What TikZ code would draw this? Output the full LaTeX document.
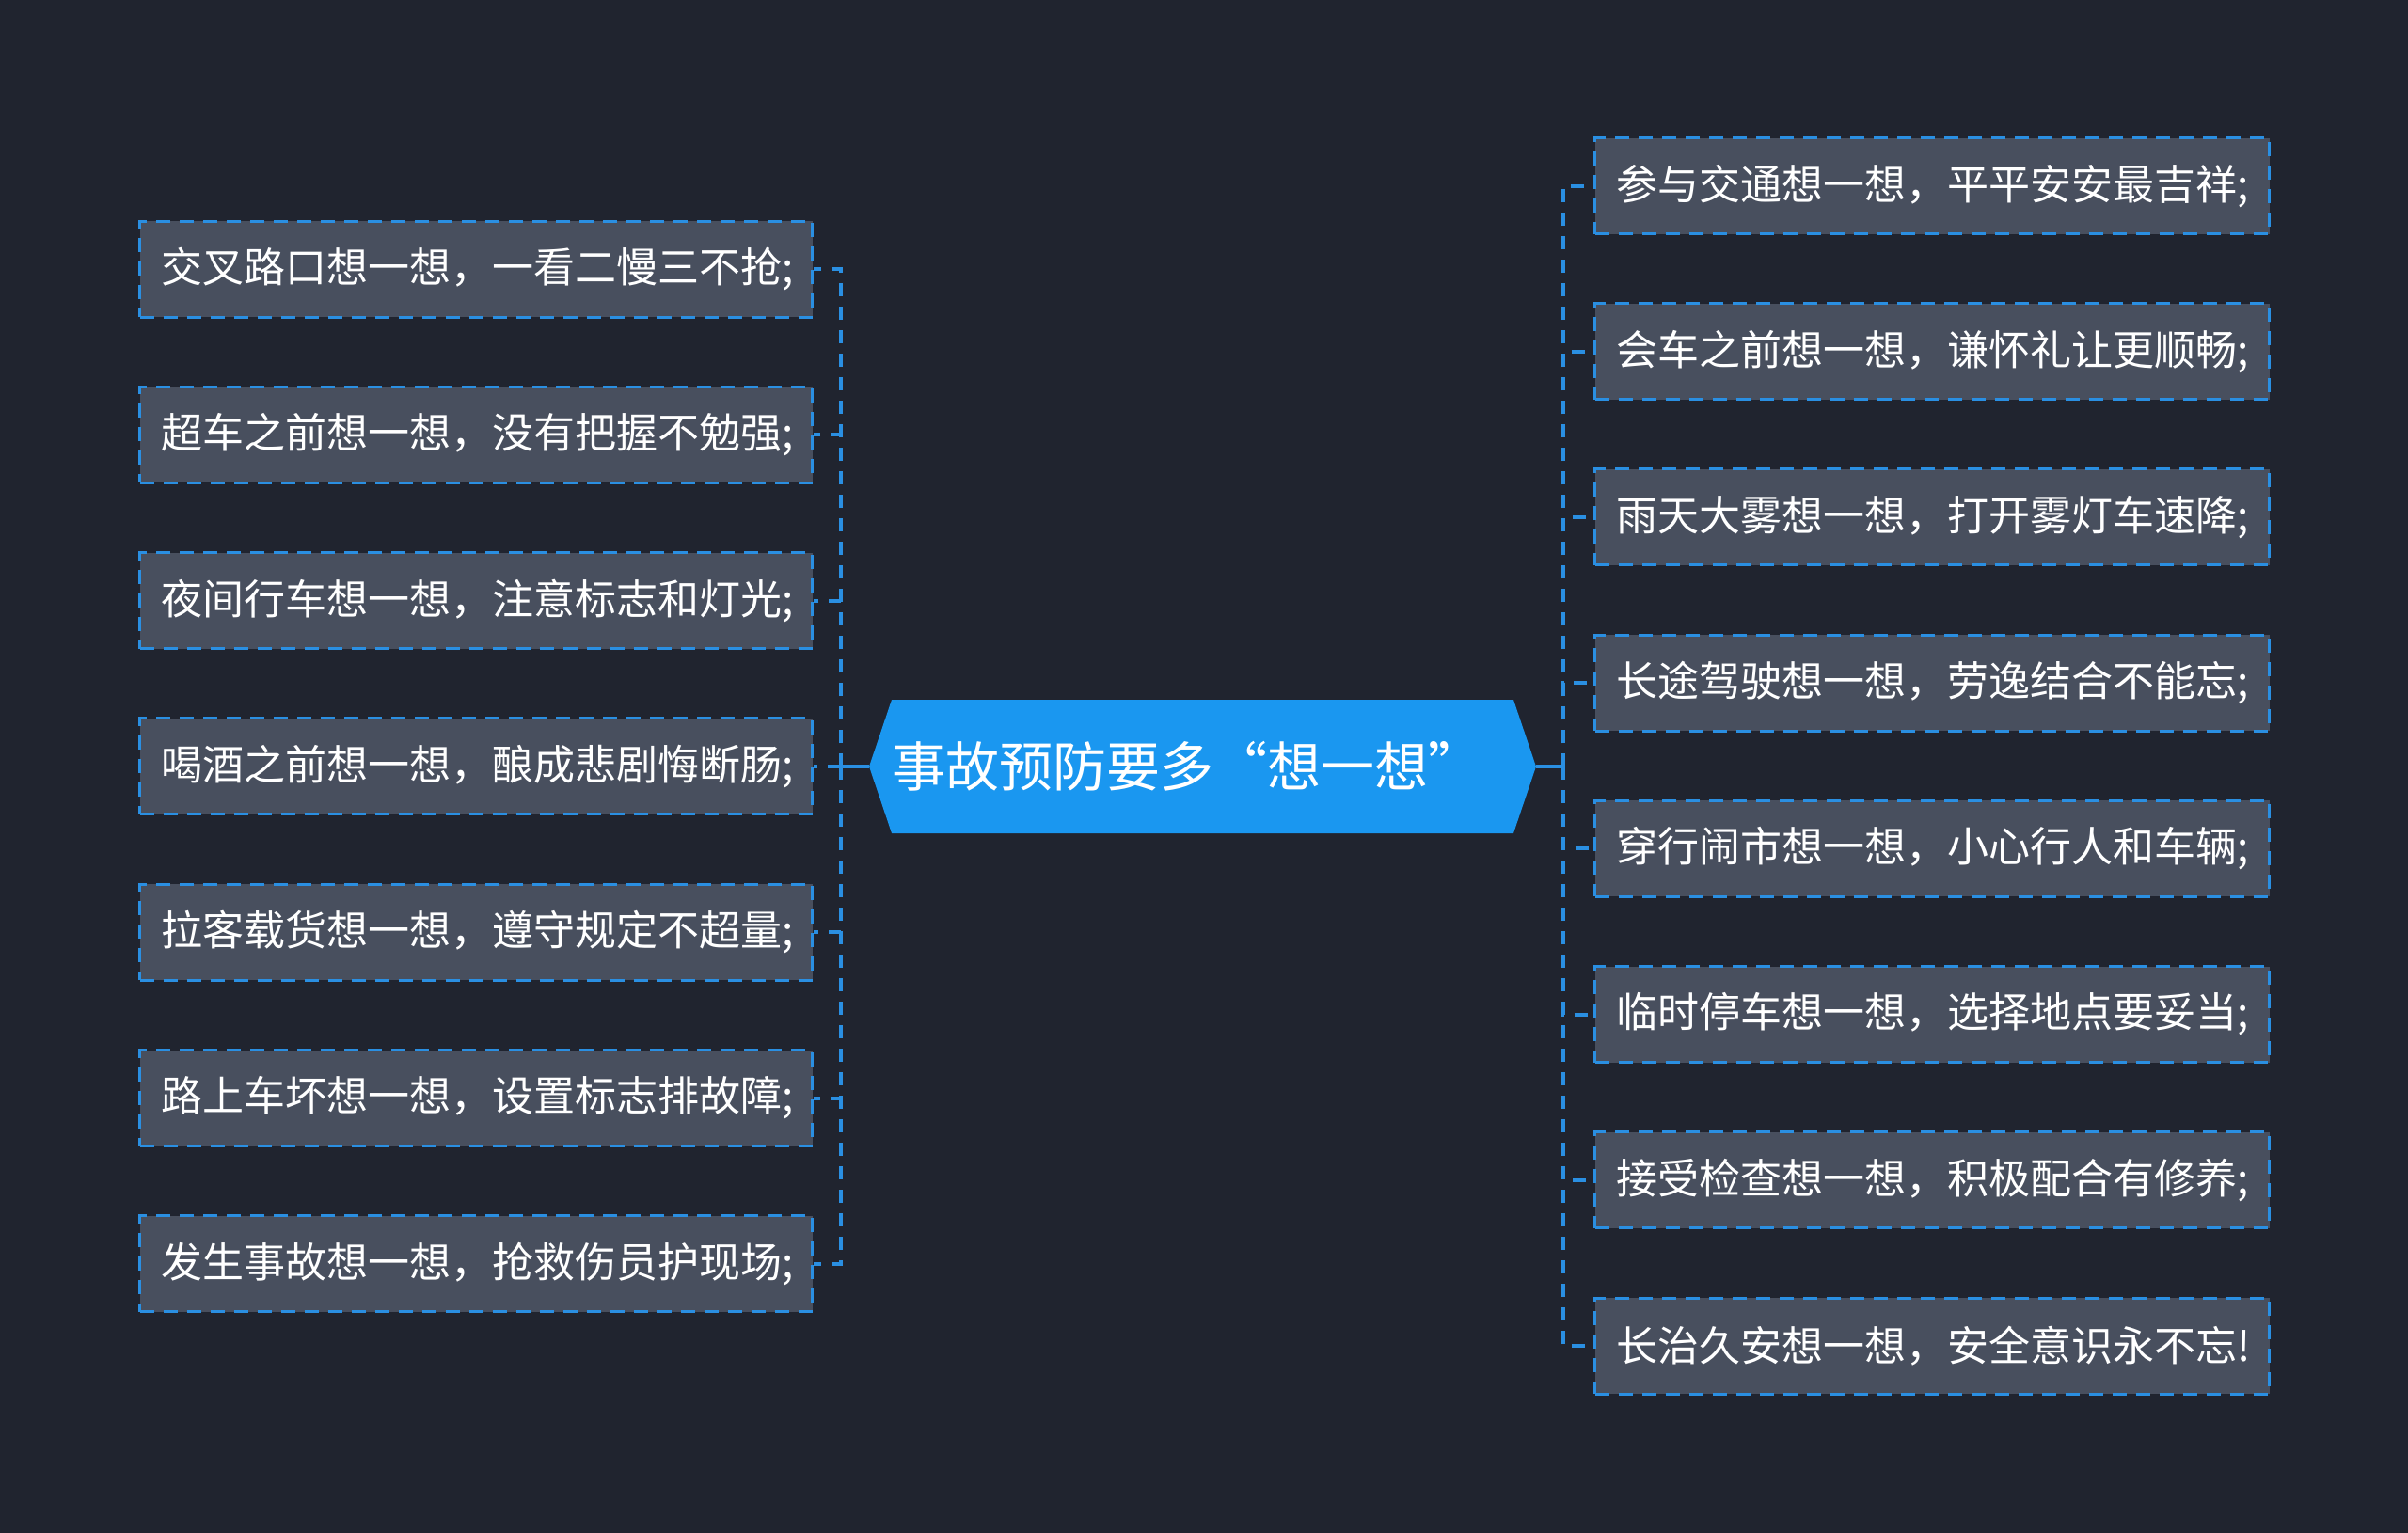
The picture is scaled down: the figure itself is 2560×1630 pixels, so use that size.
\documentclass[tikz,border=0pt]{standalone}
\usepackage{fontspec}
\newfontfamily\cjk{Noto Sans CJK SC}
\definecolor{bg}{HTML}{20242F}
\definecolor{boxfill}{HTML}{484F5E}
\definecolor{lineblue}{HTML}{2A8FE2}
\definecolor{rootblue}{HTML}{1A97F0}
\tikzset{
  leaf/.style={draw=lineblue, line width=3pt, dash pattern=on 15pt off 10pt, fill=boxfill,
    text=white, inner xsep=23pt, inner ysep=0pt, minimum height=102pt, align=left,
    font=\cjk\fontsize{44}{52}\selectfont},
  leftleaf/.style={leaf, text width=669pt, anchor=west},
  rightleaf/.style={leaf, text width=671pt, anchor=west},
  conn/.style={draw=lineblue, line width=4pt, dash pattern=on 14pt off 11pt},
  solidconn/.style={draw=lineblue, line width=4pt}
}
\begin{document}
\begin{tikzpicture}[x=1pt, y=-1pt]
\fill[bg] (0,0) rectangle (2560,1630);
\useasboundingbox (0,0) rectangle (2560,1630);
% root
\fill[rootblue] (924,815) -- (948,744) -- (1609,744) -- (1633,815) -- (1609,886) -- (948,886) -- cycle;
\node[text=white, font=\cjk\fontsize{57}{64}\selectfont, inner sep=0pt] (root) at (1262,815) {事故预防要多“想一想”};
\coordinate (rootW) at (924,815);
\coordinate (rootE) at (1633,815);
\coordinate (jL) at (894,815);
\coordinate (jR) at (1662,815);
% left leaves
\node[leftleaf] (l1) at (147,286) {交叉路口想一想，一看二慢三不抢;};
\node[leftleaf] (l2) at (147,462.3) {超车之前想一想，没有把握不勉强;};
\node[leftleaf] (l3) at (147,638.6) {夜间行车想一想，注意标志和灯光;};
\node[leftleaf] (l4) at (147,814.9) {喝酒之前想一想，酿成悲剧悔断肠;};
\node[leftleaf] (l5) at (147,991.2) {拉客载货想一想，遵守规定不超量;};
\node[leftleaf] (l6) at (147,1167.5) {路上车坏想一想，设置标志排故障;};
\node[leftleaf] (l7) at (147,1343.8) {发生事故想一想，抢救伤员护现场;};
% right leaves
\node[rightleaf] (r1) at (1694,197.5) {参与交通想一想，平平安安最吉祥;};
\node[rightleaf] (r2) at (1694,373.7) {会车之前想一想，谦怀礼让更顺畅;};
\node[rightleaf] (r3) at (1694,549.9) {雨天大雾想一想，打开雾灯车速降;};
\node[rightleaf] (r4) at (1694,726.1) {长途驾驶想一想，劳逸结合不能忘;};
\node[rightleaf] (r5) at (1694,902.3) {穿行闹市想一想，小心行人和车辆;};
\node[rightleaf] (r6) at (1694,1078.5) {临时停车想一想，选择地点要妥当;};
\node[rightleaf] (r7) at (1694,1254.7) {接受检查想一想，积极配合有修养;};
\node[rightleaf] (r8) at (1694,1431) {长治久安想一想，安全意识永不忘!};
% connectors
\draw[solidconn] (rootW) -- (jL);
\draw[solidconn] (rootE) -- (jR);
\foreach \n in {l1,l2,l3,l4,l5,l6,l7}
  \draw[conn] (jL) |- (\n.east);
\foreach \n in {r1,r2,r3,r4,r5,r6,r7,r8}
  \draw[conn] (jR) |- (\n.west);
\end{tikzpicture}
\end{document}
